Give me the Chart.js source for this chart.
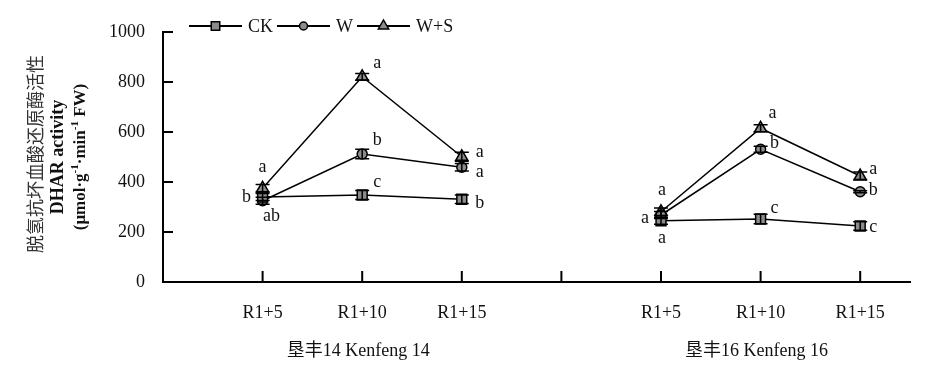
<!DOCTYPE html>
<html lang="zh">
<head>
<meta charset="UTF-8">
<title>DHAR activity</title>
<script src="https://cdn.jsdelivr.net/npm/chart.js"></script>
<style>
  body { margin: 0; background: #fff; }
  #wrap { width: 945px; height: 373px; position: relative; }
</style>
</head>
<body>
<div id="wrap"><canvas id="dharChart"></canvas></div>
<script>
// ---- data ----
const categories = ['R1+5', 'R1+10', 'R1+15'];
const cultivars = ['垦丰14 Kenfeng 14', '垦丰16 Kenfeng 16'];
const seriesNames = ['CK', 'W', 'W+S'];
const yTicks = [0, 200, 400, 600, 800, 1000];

// means (Kenfeng 14 / Kenfeng 16)
const ckK14 = [340, 348, 331];
const ckK16 = [245, 252, 224];
const wK14 = [325, 512, 459];
const wK16 = [268, 531, 361];
const wsK14 = [375, 821, 501];
const wsK16 = [281, 615, 424];

// error bars
const ckErrK14 = [14, 18, 17];
const ckErrK16 = [14, 19, 17];
const wErrK14 = [14, 19, 15];
const wErrK16 = [14, 12, 4];
const wsErrK14 = [15, 13, 18];
const wsErrK16 = [15, 14, 16];

// significance letters
const ckSigK14 = ['b', 'c', 'b'];
const ckSigK16 = ['a', 'c', 'c'];
const wSigK14 = ['ab', 'b', 'a'];
const wSigK16 = ['a', 'b', 'b'];
const wsSigK14 = ['a', 'a', 'a'];
const wsSigK16 = ['a', 'a', 'a'];

// where each letter sits relative to its point (px)
const ckLetterPos = [[-16, 0], [15, -13], [18, 4], [1, 18], [14, -11], [13, 1]];
const wLetterPos = [[9, 16], [15, -14], [18, 5], [-16, 3], [14, -6], [13, -1]];
const wsLetterPos = [[0, -21], [15, -13], [18, -4], [1, -21], [12, -15], [13, -7]];

const serif = "'Liberation Serif', 'Times New Roman', 'Noto Sans CJK SC', serif";
const fill = '#8c8c8c';
const step = categories.length + 1;   // one empty slot between cultivars

function points(a, b) {
  const out = [];
  [a, b].forEach((vals, g) => {
    vals.forEach((v, i) => out.push({ x: g * step + i + 1, y: v }));
    if (g === 0) out.push({ x: step, y: null });
  });
  return out;
}
function joined(a, b) { return a.concat([null], b); }

const series = [
  { name: seriesNames[0], style: 'rect', radius: 7, data: points(ckK14, ckK16),
    err: joined(ckErrK14, ckErrK16), sig: joined(ckSigK14, ckSigK16), pos: ckLetterPos },
  { name: seriesNames[1], style: 'circle', radius: 5, data: points(wK14, wK16),
    err: joined(wErrK14, wErrK16), sig: joined(wSigK14, wSigK16), pos: wLetterPos },
  { name: seriesNames[2], style: 'triangle', radius: 7, data: points(wsK14, wsK16),
    err: joined(wsErrK14, wsErrK16), sig: joined(wsSigK14, wsSigK16), pos: wsLetterPos }
];

function marker(ctx, style, r, x, y) {
  ctx.beginPath();
  if (style === 'rect') {
    const s = r * Math.SQRT1_2;
    ctx.rect(x - s, y - s, 2 * s, 2 * s);
  } else if (style === 'circle') {
    ctx.arc(x, y, r, 0, Math.PI * 2);
  } else {
    ctx.moveTo(x, y - r);
    ctx.lineTo(x + r * 0.866, y + r * 0.5);
    ctx.lineTo(x - r * 0.866, y + r * 0.5);
    ctx.closePath();
  }
  ctx.fillStyle = fill;
  ctx.fill();
  ctx.lineWidth = 1.5;
  ctx.strokeStyle = '#000';
  ctx.stroke();
}

const extras = {
  id: 'extras',
  afterDatasetsDraw(chart) {
    const ctx = chart.ctx, y = chart.scales.y;
    ctx.save();
    ctx.strokeStyle = '#000';
    ctx.lineWidth = 1.5;
    series.forEach((s, d) => {
      const meta = chart.getDatasetMeta(d);
      s.data.forEach((p, j) => {
        if (p.y == null) return;
        const px = meta.data[j].x;
        const top = y.getPixelForValue(p.y + s.err[j]);
        const bot = y.getPixelForValue(p.y - s.err[j]);
        ctx.beginPath();
        ctx.moveTo(px, top); ctx.lineTo(px, bot);
        ctx.moveTo(px - 7, top); ctx.lineTo(px + 7, top);
        ctx.moveTo(px - 7, bot); ctx.lineTo(px + 7, bot);
        ctx.stroke();
      });
    });
    ctx.restore();
  },
  afterDraw(chart) {
    const ctx = chart.ctx, xs = chart.scales.x, ys = chart.scales.y;
    const area = chart.chartArea;
    ctx.save();

    // inward tick marks
    ctx.strokeStyle = '#000';
    ctx.lineWidth = 2;
    ctx.beginPath();
    yTicks.forEach(v => {
      const py = ys.getPixelForValue(v);
      ctx.moveTo(area.left, py); ctx.lineTo(area.left + 10, py);
    });
    for (let v = 1; v < 2 * step; v++) {
      const px = xs.getPixelForValue(v);
      ctx.moveTo(px, area.bottom); ctx.lineTo(px, area.bottom - 11);
    }
    ctx.stroke();

    // significance letters
    ctx.fillStyle = '#111';
    ctx.font = '18px ' + serif;
    ctx.textAlign = 'center';
    ctx.textBaseline = 'middle';
    series.forEach((s, d) => {
      const meta = chart.getDatasetMeta(d);
      let k = 0;
      s.data.forEach((p, j) => {
        if (p.y == null) return;
        const el = meta.data[j];
        const off = s.pos[k++];
        ctx.fillText(s.sig[j], el.x + off[0], el.y + off[1]);
      });
    });

    // cultivar labels
    cultivars.forEach((c, g) => {
      const px = xs.getPixelForValue(g * step + (categories.length + 1) / 2);
      ctx.fillText(c, px - 4, 351);
    });

    // legend: line + marker + name
    let lx = 189;
    const ly = 26;
    ctx.textAlign = 'left';
    series.forEach(s => {
      ctx.beginPath();
      ctx.moveTo(lx, ly); ctx.lineTo(lx + 53, ly);
      ctx.lineWidth = 2;
      ctx.strokeStyle = '#000';
      ctx.stroke();
      marker(ctx, s.style, s.radius - 1, lx + 26.5, ly);
      ctx.fillStyle = '#111';
      ctx.fillText(s.name, lx + 59, ly + 1);
      lx += 59 + ctx.measureText(s.name).width + 4;
    });

    // y title, three rotated lines
    const cy = (area.top + area.bottom) / 2;
    ctx.textAlign = 'center';
    ctx.save();
    ctx.translate(35, cy - 3); ctx.rotate(-Math.PI / 2);
    ctx.fillStyle = '#333';
    ctx.font = "18px 'Noto Sans CJK SC', sans-serif";
    ctx.fillText('脱氢抗坏血酸还原酶活性', 0, 0);
    ctx.restore();

    ctx.save();
    ctx.translate(58, cy); ctx.rotate(-Math.PI / 2);
    ctx.fillStyle = '#111';
    ctx.font = 'bold 18px ' + serif;
    ctx.fillText('DHAR activity', 0, 0);
    ctx.restore();

    ctx.save();
    ctx.translate(81, cy); ctx.rotate(-Math.PI / 2);
    ctx.fillStyle = '#111';
    ctx.textAlign = 'left';
    const parts = [['(μmol·g', 0], ['-1', 1], ['·min', 0], ['-1', 1], [' FW)', 0]];
    const big = 'bold 17px ' + serif, small = 'bold 11px ' + serif;
    let total = 0;
    parts.forEach(p => { ctx.font = p[1] ? small : big; total += ctx.measureText(p[0]).width; });
    let tx = -total / 2;
    parts.forEach(p => {
      ctx.font = p[1] ? small : big;
      ctx.fillText(p[0], tx, p[1] ? -6 : 0);
      tx += ctx.measureText(p[0]).width;
    });
    ctx.restore();

    ctx.restore();
  }
};

new Chart(document.getElementById('dharChart'), {
  type: 'line',
  data: {
    datasets: series.map(s => ({
      label: s.name,
      data: s.data,
      borderColor: '#000',
      borderWidth: 1.5,
      pointStyle: s.style,
      pointRadius: s.radius,
      pointBackgroundColor: fill,
      pointBorderColor: '#000',
      pointBorderWidth: 1.5,
      spanGaps: false,
      tension: 0
    }))
  },
  options: {
    responsive: true,
    maintainAspectRatio: false,
    animation: false,
    layout: { padding: { top: 32, right: 35, left: 0, bottom: 0 } },
    plugins: { legend: { display: false }, tooltip: { enabled: false } },
    scales: {
      x: {
        type: 'linear',
        min: 0,
        max: 2 * step - 0.5,
        afterFit: s => { s.height = 91; },
        afterBuildTicks: s => {
          s.ticks = [];
          for (let v = 0; v <= 2 * step - 1; v++) s.ticks.push({ value: v });
        },
        ticks: {
          autoSkip: false,
          maxRotation: 0,
          padding: 12,
          color: '#111',
          font: { family: serif, size: 18 },
          callback: v => {
            const i = v % step;
            return (i >= 1 && i <= categories.length) ? categories[i - 1] : '';
          }
        },
        grid: { display: false },
        border: { display: true, color: '#000', width: 2 }
      },
      y: {
        min: 0,
        max: 1000,
        afterFit: s => { s.width = 163; },
        afterBuildTicks: s => { s.ticks = yTicks.map(v => ({ value: v })); },
        ticks: {
          padding: 10,
          color: '#111',
          font: { family: serif, size: 18 },
          callback: v => String(v)
        },
        grid: { display: false },
        border: { display: true, color: '#000', width: 2 }
      }
    }
  },
  plugins: [extras]
});
</script>
</body>
</html>
